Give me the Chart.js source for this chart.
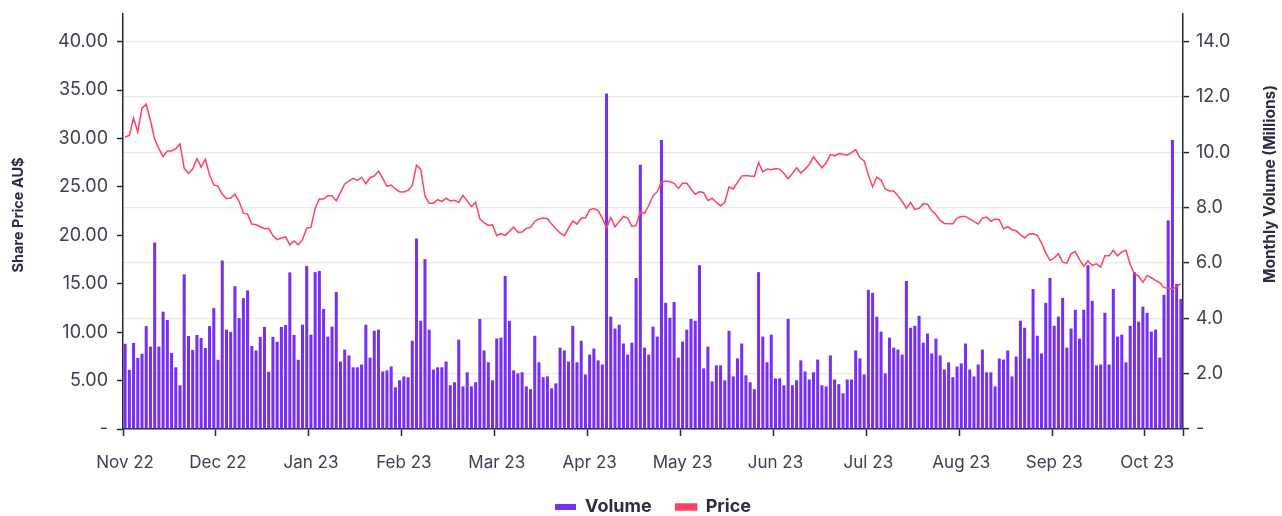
<!DOCTYPE html>
<html>
<head>
<meta charset="utf-8">
<script src="https://cdn.jsdelivr.net/npm/chart.js@4.4.1/dist/chart.umd.min.js"></script>
<style>
  html, body { margin: 0; padding: 0; background: #fff; }
</style>
</head>
<body>
<canvas id="myChart" width="1282" height="516"></canvas>
<script>
// month tick labels, one every 22 trading days
const monthLabels = ['Nov 22', 'Dec 22', 'Jan 23', 'Feb 23', 'Mar 23', 'Apr 23',
  'May 23', 'Jun 23', 'Jul 23', 'Aug 23', 'Sep 23', 'Oct 23'];

// daily volume, millions
const volume = [
  3.08,2.14,3.11,2.57,2.72,3.72,2.98,6.74,2.98,4.24,3.94,2.75,2.23,1.58,5.59,3.36,2.86,3.40,3.29,2.93,3.72,4.37,2.50,6.09,3.59,3.51,5.16,4.01,4.73,5.01,3.00,2.84,3.33,3.69,2.07,3.33,3.15,3.69,3.76,5.66,3.40,2.50,
  3.77,5.89,3.41,5.67,5.71,4.34,3.34,3.70,4.95,2.44,2.87,2.66,2.23,2.23,2.33,3.77,2.58,3.55,3.59,2.08,2.12,2.26,1.51,1.76,1.90,1.87,3.19,6.89,3.91,6.14,3.59,2.15,2.23,2.23,2.44,1.58,1.69,3.23,1.54,2.05,1.54,1.69,
  3.98,2.84,2.41,1.76,3.27,3.30,5.53,3.91,2.12,2.01,2.05,1.54,1.44,3.37,2.41,1.87,1.90,1.47,1.65,2.94,2.84,2.44,3.73,2.41,3.19,1.97,2.69,2.91,2.48,2.33,12.13,4.06,3.63,3.77,3.09,2.69,3.12,5.46,9.55,2.94,2.69,3.70,
  3.34,10.45,4.56,4.02,4.59,2.58,3.16,3.59,3.98,3.91,5.92,2.19,2.98,1.72,2.30,2.30,1.76,3.55,1.90,2.55,3.09,1.94,1.69,1.44,5.67,3.34,2.41,3.41,1.83,1.83,1.58,3.98,1.58,1.76,2.48,2.08,1.79,2.05,2.51,1.58,1.54,2.66,
  1.79,1.62,1.29,1.79,1.79,2.84,2.55,1.97,5.03,4.92,4.06,3.52,2.01,3.30,2.94,2.87,2.69,5.35,3.66,3.73,4.09,3.12,3.45,2.73,3.27,2.66,2.15,2.41,1.87,2.26,2.37,3.09,2.15,1.90,2.33,2.87,2.05,2.05,1.54,2.55,2.51,2.84,1.90,
  2.62,3.91,3.66,2.55,5.06,3.37,2.73,4.56,5.46,3.73,4.06,4.74,2.94,3.63,4.31,3.27,4.31,5.92,4.63,2.30,2.33,4.20,2.33,5.06,3.34,3.41,2.41,3.73,5.67,3.88,4.42,4.20,3.52,3.59,2.58,4.85,7.54,10.45,5.24,4.70
];

// daily close, AU$
const price = [
  30.15,30.32,32.10,30.67,33.13,33.54,31.86,29.91,28.96,28.14,28.72,28.72,28.96,29.44,26.91,26.39,26.84,27.93,27.04,27.86,26.22,25.20,25.09,24.24,23.79,23.86,24.24,23.49,22.29,22.19,21.16,21.09,20.89,20.68,20.72,19.97,19.56,19.73,19.83,19.01,19.42,19.01,
  19.56,20.75,20.82,22.80,23.76,23.76,24.10,24.10,23.56,24.44,25.30,25.61,25.88,25.68,25.98,25.33,25.95,26.12,26.63,25.88,25.06,25.20,24.79,24.51,24.48,24.65,25.13,27.25,26.84,24.07,23.32,23.32,23.69,23.49,23.83,23.56,23.62,23.42,24.14,23.56,22.97,23.42,
  21.71,21.30,21.03,21.09,19.97,20.17,20.00,20.41,20.85,20.31,20.34,20.72,20.82,21.44,21.68,21.78,21.71,21.16,20.68,20.24,19.97,20.75,21.50,21.16,21.78,21.78,22.63,22.77,22.56,21.78,20.75,21.85,20.89,21.44,21.95,21.78,20.92,21.03,22.46,22.26,23.08,24.07,
  24.51,25.47,25.61,25.54,25.37,24.85,25.37,25.37,24.79,24.24,24.51,24.41,23.59,23.83,23.42,23.04,23.42,24.99,24.79,25.47,26.12,26.19,26.12,26.09,27.52,26.56,26.84,26.77,26.91,26.84,26.39,25.85,26.39,26.97,26.43,26.84,27.32,28.10,27.52,26.97,27.49,28.34,
  28.21,28.44,28.38,28.27,28.55,28.85,28.00,27.69,26.22,24.99,26.02,25.71,24.79,24.58,24.58,24.10,23.49,22.80,23.38,22.67,22.80,23.25,23.21,22.56,22.12,21.54,21.23,21.20,21.20,21.78,21.95,21.95,21.71,21.44,21.16,21.78,21.88,21.44,21.68,21.61,20.68,20.89,20.58,
  20.48,20.07,19.73,20.14,20.17,20.00,19.21,18.19,17.40,17.68,18.09,17.23,17.13,18.09,18.32,17.50,16.82,17.37,16.89,17.06,16.72,17.88,17.88,18.46,17.88,18.29,18.46,16.99,16.03,15.79,15.15,15.86,15.62,15.35,15.11,14.60,14.56,14.43,14.70,15.01
];

const days = volume.map((v, i) => i);

const leftTitle = 'Share Price AU$';
const rightTitle = 'Monthly Volume (Millions)';

const INK = '#2b2d42';
const AXIS = '#23253a';
const TICK = '#3d4052';
const FONT = "Inter, 'Open Sans', sans-serif";

// rotated axis titles, placed where the reference has them
const axisTitles = {
  id: 'axisTitles',
  afterDraw(chart) {
    const c = chart.ctx;
    c.save();
    c.fillStyle = INK;
    c.textAlign = 'center';
    c.textBaseline = 'middle';
    c.font = 'bold 14.5px ' + FONT;
    c.translate(19, 215);
    c.rotate(-Math.PI / 2);
    c.fillText(leftTitle, 0, 0);
    c.restore();
    c.save();
    c.fillStyle = INK;
    c.textAlign = 'center';
    c.textBaseline = 'middle';
    c.font = 'bold 15.5px ' + FONT;
    c.translate(1270, 184);
    c.rotate(-Math.PI / 2);
    c.fillText(rightTitle, 0, 0);
    c.restore();
  }
};

const ctx = document.getElementById('myChart').getContext('2d');
const myChart = new Chart(ctx, {
  data: {
    labels: days,
    datasets: [
      {
        type: 'line',
        label: 'Price',
        data: price,
        yAxisID: 'y',
        borderColor: '#ff4163',
        backgroundColor: '#ff4163',
        borderWidth: 1.5,
        pointRadius: 0,
        tension: 0
      },
      {
        type: 'bar',
        label: 'Volume',
        data: volume,
        yAxisID: 'y1',
        backgroundColor: '#7630f5',
        borderWidth: 0,
        barPercentage: 0.72,
        categoryPercentage: 1
      }
    ]
  },
  plugins: [axisTitles],
  options: {
    responsive: false,
    animation: false,
    layout: { padding: { top: 14, bottom: 0 } },
    plugins: {
      tooltip: { enabled: false },
      legend: {
        position: 'bottom',
        fullSize: false,
        maxHeight: 42,
        labels: {
          boxWidth: 21,
          boxHeight: 6,
          padding: 24,
          color: INK,
          font: { family: FONT, size: 18, weight: 'bold' },
          sort: (a, b) => b.datasetIndex - a.datasetIndex
        }
      }
    },
    scales: {
      x: {
        type: 'category',
        offset: true,
        afterFit: (axis) => { axis.height = 45; },
        grid: {
          offset: true,
          drawOnChartArea: false,
          tickLength: 7,
          tickWidth: 1.5,
          tickColor: (c) => (c.index === undefined || c.index % 22 === 0) ? AXIS : 'rgba(0,0,0,0)'
        },
        border: { color: AXIS, width: 1.5 },
        ticks: {
          autoSkip: false,
          maxRotation: 0,
          padding: 17,
          color: TICK,
          font: { family: FONT, size: 17 },
          callback: (v, i) => (i % 22 === 0 ? monthLabels[i / 22] : '')
        }
      },
      y: {
        position: 'left',
        min: 0,
        max: 15 * 40 / 14,
        afterBuildTicks: (axis) => { axis.ticks = axis.ticks.filter(t => t.value <= 40.0001); },
        afterFit: (axis) => { axis.width = 123; axis.paddingTop = 0; axis.paddingBottom = 0; },
        grid: { drawOnChartArea: false, tickLength: 6, tickWidth: 1.5, tickColor: AXIS },
        border: { color: AXIS, width: 1.5 },
        ticks: {
          stepSize: 5,
          padding: 9,
          color: TICK,
          font: { family: FONT, size: 18 },
          callback: (v) => (v === 0 ? '-' : v.toFixed(2))
        }
      },
      y1: {
        position: 'right',
        min: 0,
        max: 15,
        afterBuildTicks: (axis) => { axis.ticks = axis.ticks.filter(t => t.value <= 14.0001); },
        afterFit: (axis) => { axis.width = 99; axis.paddingTop = 0; axis.paddingBottom = 0; },
        grid: {
          drawOnChartArea: true,
          color: (c) => (c.tick && c.tick.value === 0 ? 'rgba(0,0,0,0)' : '#e9e9ec'),
          lineWidth: 1.2,
          tickLength: 6,
          tickWidth: 1.5,
          tickColor: AXIS
        },
        border: { color: AXIS, width: 1.5 },
        ticks: {
          stepSize: 2,
          padding: 7,
          color: TICK,
          font: { family: FONT, size: 18 },
          callback: (v) => (v === 0 ? '-' : v.toFixed(1))
        }
      }
    }
  }
});
</script>
</body>
</html>
